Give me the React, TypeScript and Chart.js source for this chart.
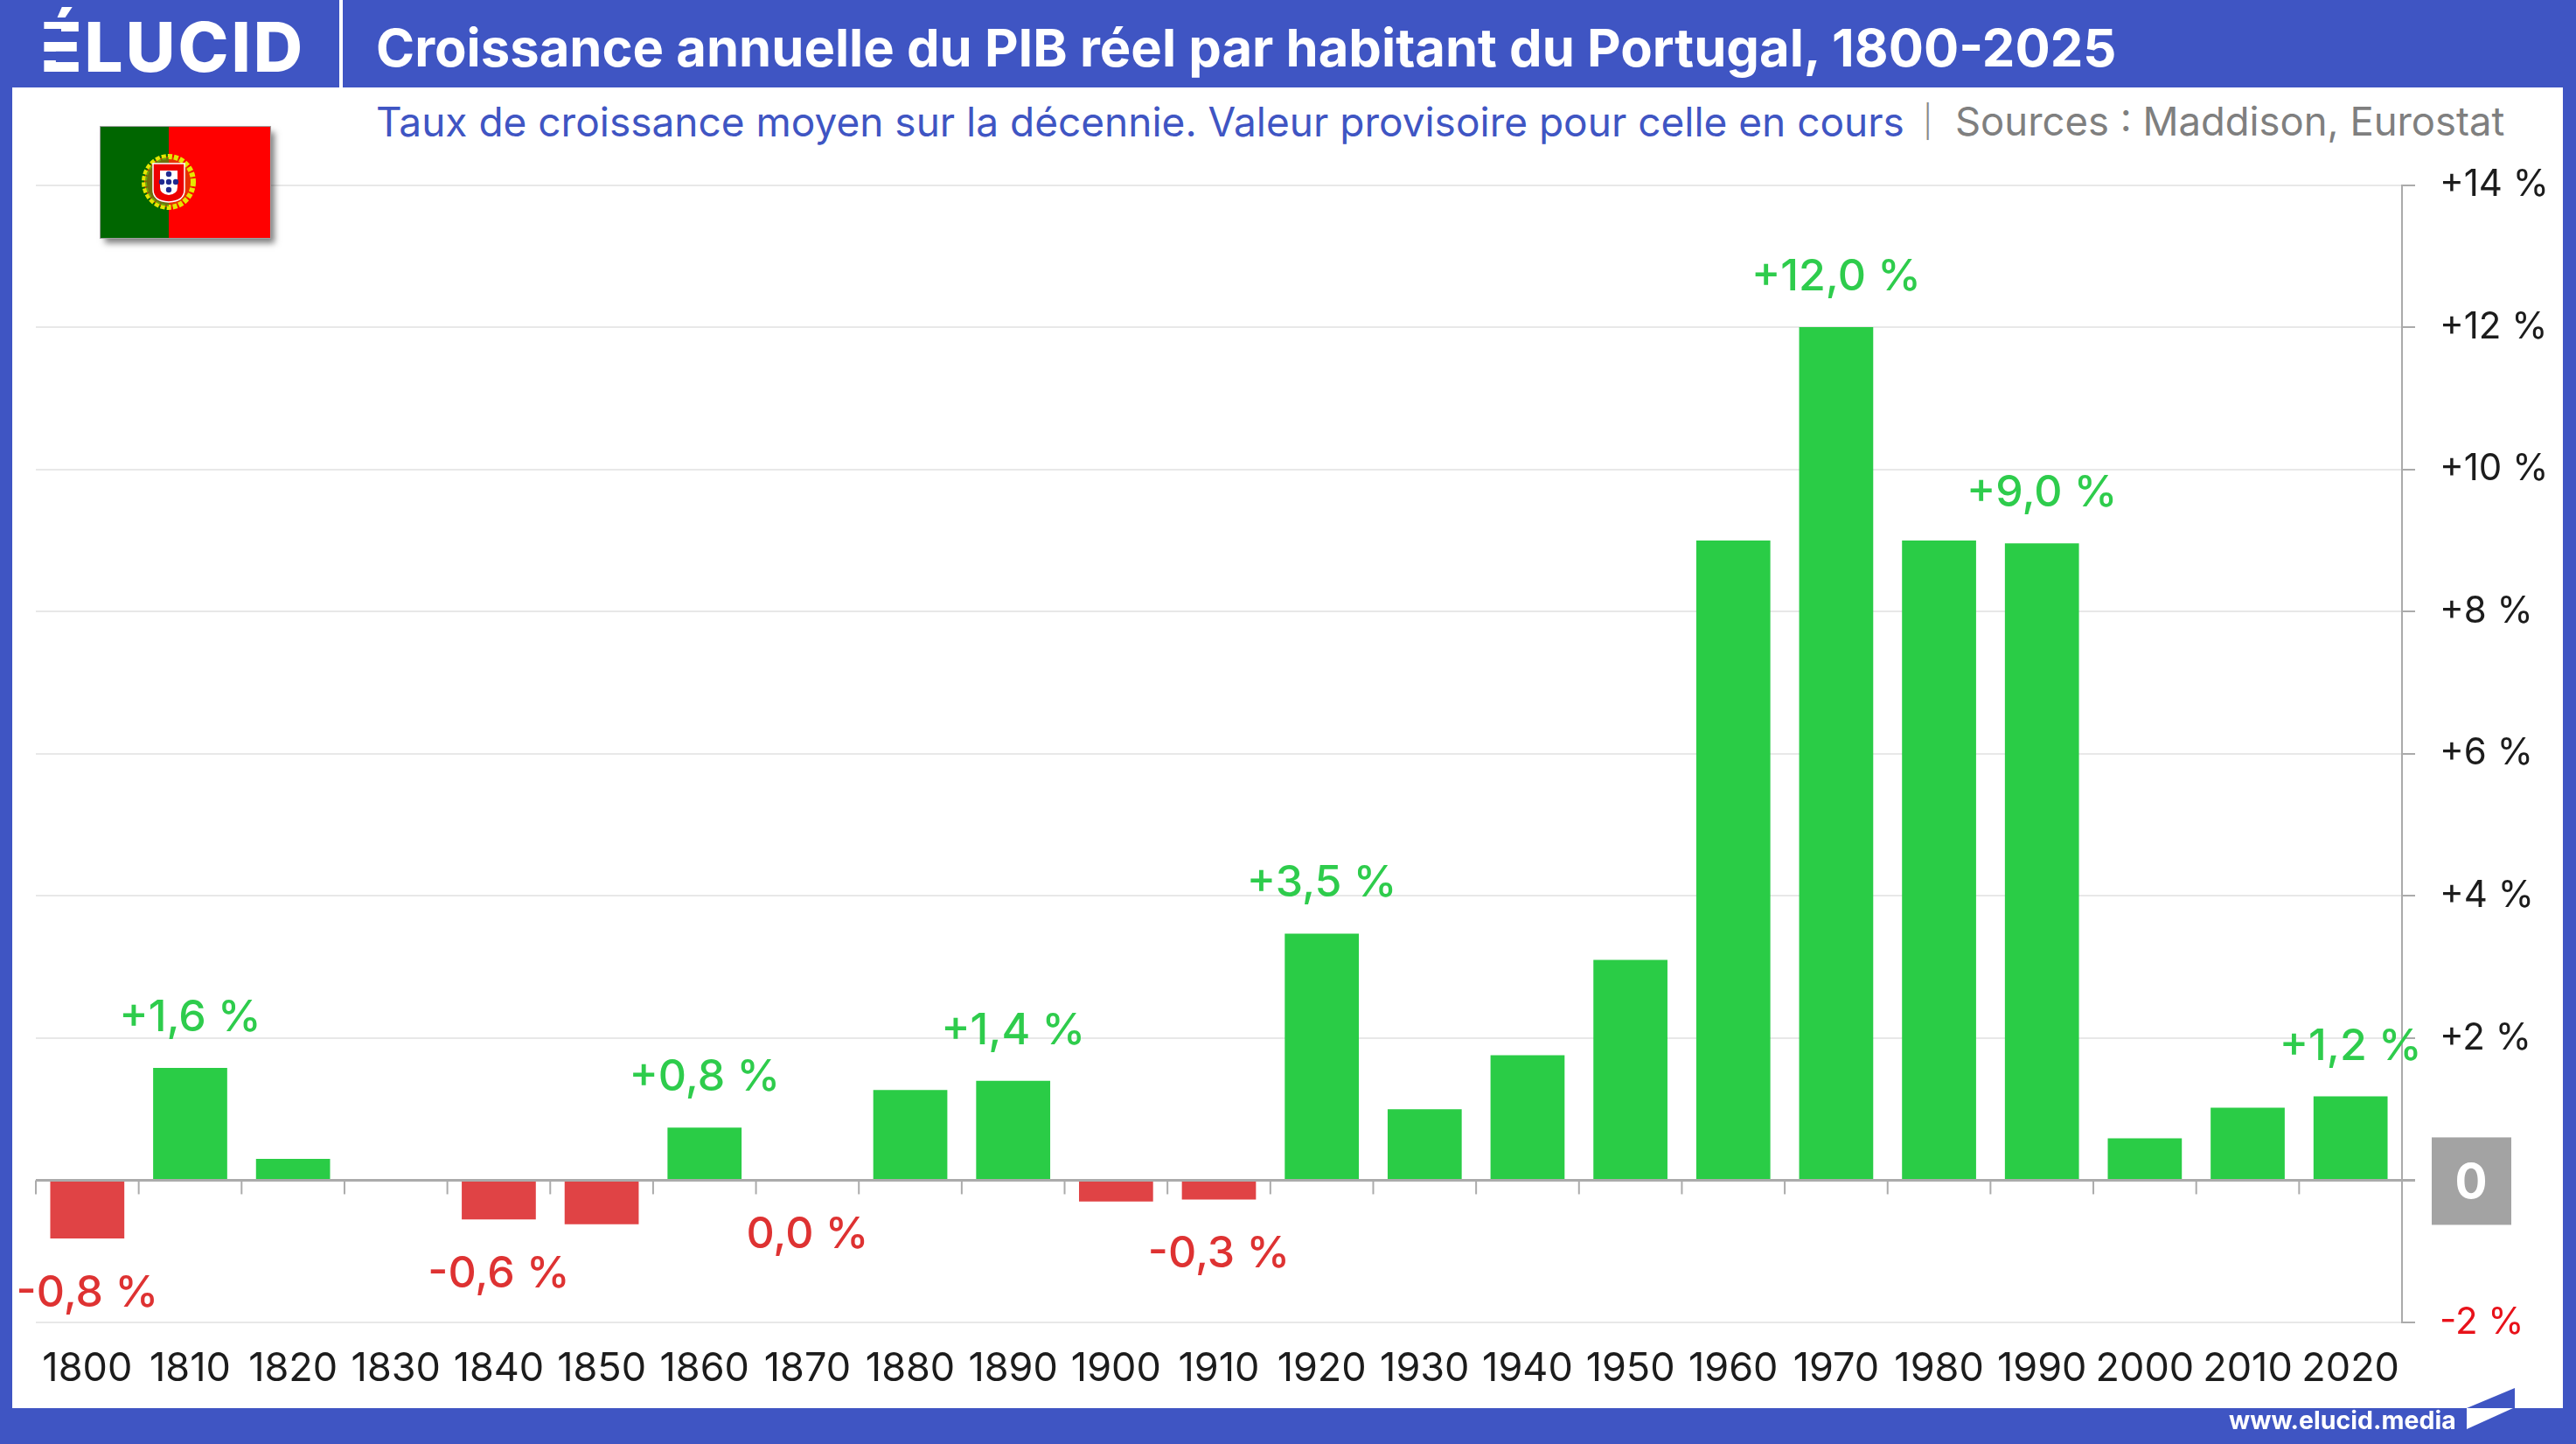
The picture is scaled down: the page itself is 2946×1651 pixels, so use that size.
import React, { useEffect, useRef } from "react";
import { Chart, registerables } from "chart.js";

Chart.register(...registerables);

const decades = ["1800","1810","1820","1830","1840","1850","1860","1870","1880","1890","1900","1910","1920","1930","1940","1950","1960","1970","1980","1990","2000","2010","2020"];
const growth = [-0.82,1.58,0.3,0,-0.55,-0.62,0.74,0,1.27,1.4,-0.3,-0.27,3.47,1.0,1.76,3.1,9.0,12.0,9.0,8.96,0.59,1.02,1.18];
const valueLabels = ["-0,8 %","+1,6 %","","","-0,6 %","","+0,8 %","0,0 %","","+1,4 %","","-0,3 %","+3,5 %","","","","","+12,0 %","","+9,0 %","","","+1,2 %"];
const yMin = -2;
const yMax = 14;
const yStep = 2;

const titleText = "Croissance annuelle du PIB réel par habitant du Portugal, 1800-2025";
const subtitleText = "Taux de croissance moyen sur la décennie. Valeur provisoire pour celle en cours";
const sourceText = "Sources : Maddison, Eurostat";

const BLUE = "#3F55C3";
const GREEN = "#2ACC46";
const RED_BAR = "#E04345";
const RED_TEXT = "#DE3232";
const GREEN_TEXT = "#2ECC4C";
const AXIS = "#ABABAB";
const FONT = "Inter";

const decorPlugin = {
  id: "decor",
  beforeDraw(chart: any) {
    const { ctx, scales } = chart;
    const y0 = scales.y.getPixelForValue(0);
    ctx.save();
    ctx.fillStyle = "#A3A3A3";
    ctx.fillRect(2781, y0 - 49, 91, 100);
    ctx.fillStyle = "#FFFFFF";
    ctx.font = `bold 55px ${FONT}`;
    ctx.textAlign = "center";
    ctx.textBaseline = "middle";
    ctx.fillText("0", 2826, y0 + 4);
    ctx.restore();
  },
  afterDatasetsDraw(chart: any) {
    const { ctx, scales, chartArea } = chart;
    const x = scales.x;
    const y0 = scales.y.getPixelForValue(0);
    ctx.save();
    ctx.strokeStyle = AXIS;
    ctx.lineWidth = 2;
    const half = (x.getPixelForTick(1) - x.getPixelForTick(0)) / 2;
    decades.forEach((_, i) => {
      const px = x.getPixelForTick(i) - half;
      ctx.beginPath();
      ctx.moveTo(px, y0);
      ctx.lineTo(px, y0 + 16);
      ctx.stroke();
    });
    ctx.lineWidth = 3;
    ctx.beginPath();
    ctx.moveTo(chartArea.left, y0);
    ctx.lineTo(chartArea.right + 15, y0);
    ctx.stroke();
    ctx.restore();
  },
  afterDraw(chart: any) {
    const { ctx } = chart;
    const meta = chart.getDatasetMeta(0);
    ctx.save();
    ctx.font = `500 50px ${FONT}`;
    ctx.textAlign = "center";
    ctx.textBaseline = "middle";
    valueLabels.forEach((label, i) => {
      if (!label) return;
      const bar = meta.data[i];
      const up = growth[i] > 0;
      ctx.fillStyle = up ? GREEN_TEXT : RED_TEXT;
      ctx.fillText(label, bar.x, bar.y + (up ? -57 : 63));
    });
    ctx.restore();
  },
};

function Flag() {
  return (
    <svg width={194} height={127} viewBox="0 0 194 127" style={{ position: "absolute", left: 115, top: 145, boxShadow: "5px 6px 7px rgba(0,0,0,0.5)", outline: "1px solid #A0A0A0" }}>
      <rect x={0} y={0} width={78} height={127} fill="#006600" />
      <rect x={78} y={0} width={116} height={127} fill="#FF0000" />
      <ellipse cx={78} cy={63} rx={28} ry={29} fill="#E83000" stroke="#E6E600" strokeWidth={6} strokeDasharray="5 2" />
      <path d="M78 35 A27 28 0 0 0 78 91 Z" fill="#3C8A10" fillOpacity={0.7} />
      <path d="M60 42 H96 V72 Q96 85 78 86 Q60 85 60 72 Z" fill="#EE0000" stroke="#FFFFFF" strokeWidth={1.5} />
      <path d="M68 50 H88 V69 Q88 77 78 78 Q68 77 68 69 Z" fill="#FFFFFF" />
      {[[78, 54], [70, 63], [78, 63], [86, 63], [78, 72]].map(([cx, cy], i) => (
        <circle key={i} cx={cx} cy={cy} r={3.2} fill="#202A90" />
      ))}
    </svg>
  );
}

export default function App() {
  const ref = useRef<HTMLCanvasElement | null>(null);

  useEffect(() => {
    if (!ref.current) return;
    const chart = new Chart(ref.current, {
      type: "bar",
      data: {
        labels: decades,
        datasets: [
          {
            data: growth,
            backgroundColor: growth.map((v) => (v >= 0 ? GREEN : RED_BAR)),
            borderWidth: 0,
            barPercentage: 0.72,
            categoryPercentage: 1,
          },
        ],
      },
      options: {
        responsive: false,
        animation: false,
        devicePixelRatio: 1,
        layout: { padding: { left: 41, top: 211.5, right: 0, bottom: 0 } },
        plugins: { legend: { display: false }, title: { display: false }, tooltip: { enabled: false } },
        scales: {
          x: {
            grid: { display: false },
            border: { display: false },
            afterFit(scale: any) {
              scale.height = 139;
            },
            ticks: {
              autoSkip: false,
              maxRotation: 0,
              minRotation: 0,
              padding: 18,
              color: "#1C1C1C",
              font: { family: FONT, size: 45 },
            },
          },
          y: {
            position: "right",
            min: yMin,
            max: yMax,
            afterFit(scale: any) {
              scale.width = 199;
            },
            grid: { color: "#E8E8E8", lineWidth: 2, tickColor: AXIS, tickLength: 15, tickWidth: 2 },
            border: { display: true, color: AXIS, width: 2 },
            ticks: {
              stepSize: yStep,
              padding: 28,
              color: (c: any) => (c.tick.value < 0 ? "#E8121A" : "#1C1C1C"),
              font: { family: FONT, size: 42 },
              callback: (v: any) => (v === 0 ? "" : `${v > 0 ? "+" : ""}${v} %`),
            },
          },
        },
      },
      plugins: [decorPlugin],
    } as any);
    return () => chart.destroy();
  }, []);

  const abs = (s: React.CSSProperties): React.CSSProperties => ({ position: "absolute", whiteSpace: "nowrap", ...s });

  return (
    <div style={{ position: "absolute", left: 0, top: 0, width: 2946, height: 1651, overflow: "hidden", background: BLUE, fontFamily: FONT }}>
      <div style={abs({ left: 14, top: 100, width: 2917, height: 1510, background: "#FFFFFF" })} />
      <div style={abs({ left: 388, top: 0, width: 4, height: 100, background: "#FFFFFF" })} />
      <div style={abs({ left: 46, top: 0, height: 100, lineHeight: "108px", fontSize: 78, fontWeight: 800, letterSpacing: 3, color: "#FFFFFF" })}>ÉLUCID</div>
      <div style={abs({ left: 50, top: 33, width: 20, height: 15, background: BLUE })} />
      <div style={abs({ left: 50, top: 59, width: 20, height: 10, background: BLUE })} />
      <div style={abs({ left: 430, top: 0, height: 100, lineHeight: "108px", fontSize: 59.7, fontWeight: 700, color: "#FFFFFF" })}>{titleText}</div>
      <div style={abs({ left: 430, top: 109, lineHeight: "60px", fontSize: 46, color: BLUE })}>{subtitleText}</div>
      <div style={abs({ left: 2199, top: 109, lineHeight: "60px", fontSize: 36, fontWeight: 300, color: "#8A8A8A" })}>|</div>
      <div style={abs({ left: 2236, top: 109, lineHeight: "60px", fontSize: 45.4, color: "#7F7F7F" })}>{sourceText}</div>
      <canvas ref={ref} width={2946} height={1651} style={{ position: "absolute", left: 0, top: 0, width: 2946, height: 1651 }} />
      <Flag />
      <div style={abs({ left: 2549, top: 1608, lineHeight: "32px", fontSize: 28.5, fontWeight: 700, color: "#FFFFFF" })}>www.elucid.media</div>
      <svg width={60} height={50} viewBox="0 0 60 50" style={{ position: "absolute", left: 2820, top: 1586 }}>
        <polygon points="1,24 56,1 56,24" fill={BLUE} />
        <polygon points="1,24 54,24 1,48" fill="#FFFFFF" />
      </svg>
    </div>
  );
}
